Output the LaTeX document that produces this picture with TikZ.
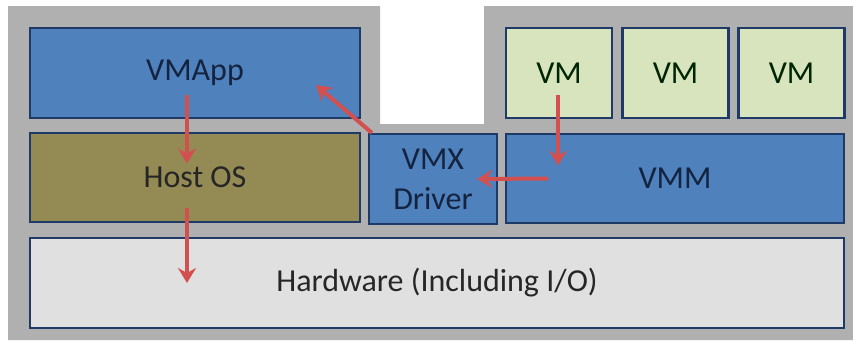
\documentclass[tikz,border=0pt]{standalone}
\usepackage{fontspec}
\setmainfont{Carlito}
\usetikzlibrary{arrows.meta}

\definecolor{panelgray}{HTML}{B0B0B0}
\definecolor{boxedge}{HTML}{1F3A66}
\definecolor{vmblue}{HTML}{4F81BD}
\definecolor{hostolive}{HTML}{948A54}
\definecolor{vmgreen}{HTML}{D7E4BD}
\definecolor{hwgray}{HTML}{E0E0E0}
\definecolor{flowred}{HTML}{D2504F}
\definecolor{labelnavy}{HTML}{14233F}

\tikzset{
  layer/.style={draw=boxedge, line width=2.2pt, inner sep=0pt,
    font=\fontsize{32}{40}\selectfont, align=center},
  bluelayer/.style={layer, fill=vmblue, text=labelnavy},
  vmbox/.style={layer, fill=vmgreen, text=black!85!green,
    minimum width=106pt, minimum height=90pt},
  flow/.style={draw=flowred, line width=4pt,
    -{Stealth[length=15pt, width=18pt, inset=5pt]}}
}

\begin{document}
\begin{tikzpicture}[x=1pt, y=-1pt]
  \useasboundingbox (0,0) rectangle (853,343);
  % grey panel with the gap above the driver
  \fill[panelgray] (8,6) -- (380,6) -- (380,124) -- (484,124) -- (484,6)
    -- (853,6) -- (853,340) -- (8,340) -- cycle;

  % host side
  \node[bluelayer, minimum width=330pt, minimum height=90pt] (vmapp) at (195,73) {VMApp};
  \node[layer, fill=hostolive, text=black!85, minimum width=330pt, minimum height=89pt] (hostos) at (195,177.5) {Host OS};
  \node[bluelayer, minimum width=128pt, minimum height=90pt] (vmx) at (433,179) {VMX\\Driver};

  % guest side
  \node[vmbox] (vm1) at (559,73) {VM};
  \node[vmbox] (vm2) at (675.5,73) {VM};
  \node[vmbox] (vm3) at (791.5,73) {VM};
  \node[bluelayer, minimum width=338pt, minimum height=89pt] (vmm) at (675,178.5) {VMM};

  \node[layer, fill=hwgray, text=black!85, minimum width=814pt, minimum height=90pt] (hw) at (437,283) {Hardware (Including I/O)};

  % flows
  \draw[flow] ([shift={(-8,22)}]vmapp.center) -- ([shift={(-8,-14)}]hostos.center);
  \draw[flow] ([shift={(-8,30)}]hostos.center) -- ([shift={(-250,0)}]hw.center);
  \draw[flow] ([shift={(4,0)}]vmx.north west) -- ([shift={(121,12)}]vmapp.center);
  \draw[flow] ([shift={(-1,22)}]vm1.center) -- ([shift={(-117,-13)}]vmm.center);
  \draw[flow] ([shift={(-127,0)}]vmm.center) -- ([shift={(44,0)}]vmx.center);
\end{tikzpicture}
\end{document}
